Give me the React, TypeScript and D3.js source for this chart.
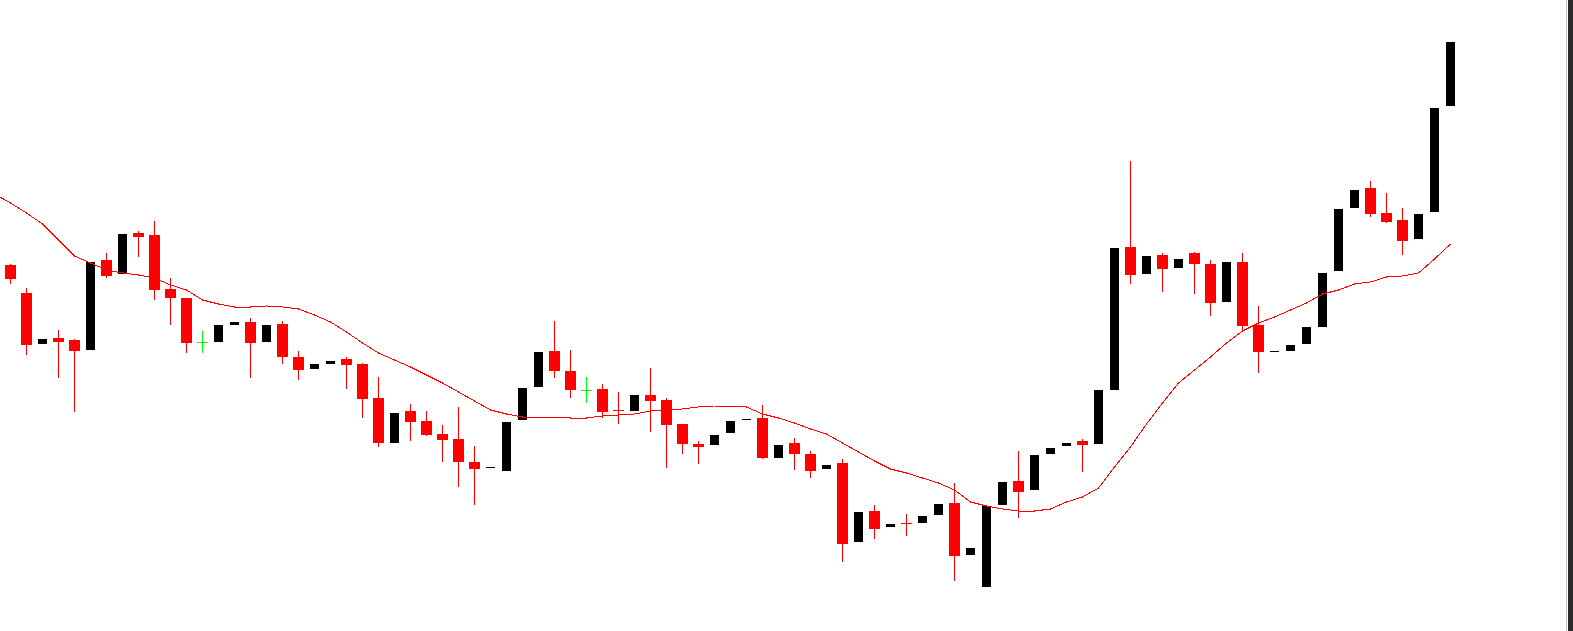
import React from "react";
import * as d3 from "d3";

// OHLC per candle (oldest → newest)
const opens = [
  13.66, 13.38, 12.87, 12.93, 12.91, 12.81, 13.71, 13.57, 13.98, 13.96,
  13.42, 13.33, 12.89, 12.89, 13.06, 13.09, 12.89, 13.07, 12.74, 12.62,
  12.67, 12.72, 12.67, 12.33, 11.88, 12.20, 12.10, 11.97, 11.92, 11.69,
  11.63, 11.60, 12.11, 12.44, 12.80, 12.60, 12.41, 12.42, 12.21, 12.20,
  12.36, 12.31, 12.07, 11.87, 11.86, 11.98, 12.11, 12.13, 11.73, 11.88,
  11.77, 11.62, 11.68, 10.89, 11.20, 11.04, 11.08, 11.08, 11.16, 11.28,
  10.76, 10.44, 11.26, 11.50, 11.41, 11.77, 11.85, 11.90, 11.87, 12.41,
  13.84, 13.57, 13.76, 13.63, 13.78, 13.67, 13.29, 13.69, 13.06, 12.79,
  12.80, 12.87, 13.04, 13.60, 14.23, 14.43, 14.18, 14.11, 13.92, 14.19,
  15.25,
];
const highs = [
  13.67, 13.43, 12.92, 13.01, 12.92, 13.69, 13.78, 13.97, 14.00, 14.10,
  13.53, 13.33, 13.00, 13.06, 13.09, 13.13, 13.06, 13.10, 12.80, 12.67,
  12.70, 12.74, 12.68, 12.54, 12.18, 12.27, 12.20, 12.06, 12.24, 11.85,
  11.64, 12.09, 12.43, 12.79, 13.10, 12.81, 12.54, 12.47, 12.39, 12.36,
  12.63, 12.33, 12.07, 11.90, 11.96, 12.10, 12.12, 12.26, 11.86, 11.93,
  11.80, 11.66, 11.72, 11.19, 11.26, 11.07, 11.17, 11.15, 11.27, 11.48,
  10.83, 11.25, 11.49, 11.80, 11.76, 11.83, 11.88, 11.92, 12.41, 13.83,
  14.70, 13.75, 13.78, 13.72, 13.79, 13.71, 13.69, 13.78, 13.25, 12.80,
  12.86, 13.04, 13.58, 14.22, 14.41, 14.50, 14.38, 14.23, 14.17, 15.23,
  15.89,
];
const lows = [
  13.47, 12.76, 12.87, 12.53, 12.19, 12.81, 13.53, 13.57, 13.74, 13.31,
  13.06, 12.78, 12.78, 12.89, 13.06, 12.53, 12.89, 12.67, 12.51, 12.62,
  12.67, 12.42, 12.13, 11.84, 11.88, 11.90, 11.95, 11.69, 11.44, 11.26,
  11.63, 11.60, 12.11, 12.44, 12.53, 12.33, 12.28, 12.13, 12.07, 12.20,
  11.99, 11.63, 11.77, 11.67, 11.86, 11.98, 12.11, 11.72, 11.73, 11.61,
  11.53, 11.62, 10.69, 10.89, 10.92, 11.04, 10.95, 11.08, 11.16, 10.50,
  10.76, 10.44, 11.26, 11.13, 11.41, 11.77, 11.85, 11.59, 11.87, 12.41,
  13.47, 13.57, 13.39, 13.63, 13.37, 13.15, 13.29, 12.99, 12.58, 12.79,
  12.80, 12.87, 13.04, 13.60, 14.23, 14.14, 14.08, 13.76, 13.92, 14.19,
  15.25,
];
const closes = [
  13.52, 12.86, 12.92, 12.89, 12.80, 13.69, 13.55, 13.97, 13.94, 13.41,
  13.33, 12.88, 12.89, 13.06, 13.09, 12.88, 13.06, 12.74, 12.61, 12.67,
  12.70, 12.66, 12.32, 11.88, 12.18, 12.09, 11.96, 11.91, 11.69, 11.62,
  11.64, 12.09, 12.43, 12.79, 12.60, 12.41, 12.41, 12.19, 12.20, 12.36,
  12.30, 12.06, 11.87, 11.84, 11.96, 12.10, 12.12, 11.73, 11.86, 11.77,
  11.60, 11.66, 10.87, 11.19, 11.02, 11.07, 11.07, 11.15, 11.27, 10.75,
  10.83, 11.25, 11.49, 11.39, 11.76, 11.83, 11.88, 11.86, 12.41, 13.83,
  13.56, 13.75, 13.62, 13.72, 13.67, 13.28, 13.69, 13.05, 12.79, 12.80,
  12.86, 13.04, 13.58, 14.22, 14.41, 14.17, 14.09, 13.90, 14.17, 15.23,
  15.89,
];
// Moving average: first value belongs to the bar just before the visible window
const maValues = [
  14.37,
  14.28, 14.18, 14.07, 13.91, 13.75, 13.68, 13.61, 13.58, 13.56, 13.53,
  13.46, 13.41, 13.31, 13.27, 13.24, 13.24, 13.25, 13.24, 13.22, 13.16,
  13.09, 12.99, 12.88, 12.78, 12.71, 12.64, 12.56, 12.48, 12.39, 12.30,
  12.21, 12.17, 12.14, 12.14, 12.14, 12.13, 12.13, 12.15, 12.16, 12.17,
  12.20, 12.21, 12.22, 12.24, 12.25, 12.25, 12.24, 12.17, 12.13, 12.08,
  12.02, 11.97, 11.88, 11.79, 11.70, 11.62, 11.58, 11.53, 11.48, 11.41,
  11.29, 11.25, 11.22, 11.20, 11.20, 11.22, 11.29, 11.34, 11.43, 11.64,
  11.84, 12.07, 12.28, 12.48, 12.61, 12.74, 12.88, 13.00, 13.08, 13.14,
  13.21, 13.28, 13.37, 13.41, 13.47, 13.49, 13.54, 13.55, 13.58, 13.72,
  13.87,
];

const W = 1573;
const H = 631;

export default function App() {
  const n = closes.length;
  const x = d3.scaleLinear().domain([0, n - 1]).range([10.5, 10.5 + 16 * (n - 1)]);
  const y = d3.scaleLinear().domain([10, 16.31]).range([H, 0]);
  const py = (v: number) => Math.round(y(v));

  const maPts: [number, number][] = maValues.map((v, i) => [x(i - 1), y(v)]);
  const maPath = d3.line()(maPts) || "";

  return (
    <div style={{ position: "fixed", left: 0, top: 0, width: W, height: H, background: "#ffffff" }}>
      <svg width={W} height={H} style={{ display: "block" }}>
        <rect x={0} y={0} width={W} height={H} fill="#ffffff" />
        {closes.map((c, i) => {
          const o = opens[i];
          const up = c > o;
          const doji = c === o;
          const color = doji ? "#00ff00" : up ? "#000000" : "#ff0000";
          const bw = up ? 9 : 11;
          const cx = x(i);
          const top = py(Math.max(o, c));
          const bot = py(Math.min(o, c));
          const hTop = py(highs[i]);
          const lBot = py(lows[i]);
          return (
            <g key={i} shapeRendering="crispEdges">
              {lBot > hTop && (
                <rect x={cx - 0.5} y={hTop} width={1} height={lBot - hTop} fill={color} />
              )}
              <rect
                x={cx - bw / 2}
                y={top}
                width={bw}
                height={Math.max(1, bot - top)}
                fill={color}
              />
            </g>
          );
        })}
        <path d={maPath} fill="none" stroke="#ff0000" strokeWidth={1} shapeRendering="crispEdges" />
        <rect x={1566} y={0} width={1} height={H} fill="#c8c8c8" />
        <rect x={1568} y={0} width={5} height={H} fill="#2b2b2b" />
      </svg>
    </div>
  );
}
